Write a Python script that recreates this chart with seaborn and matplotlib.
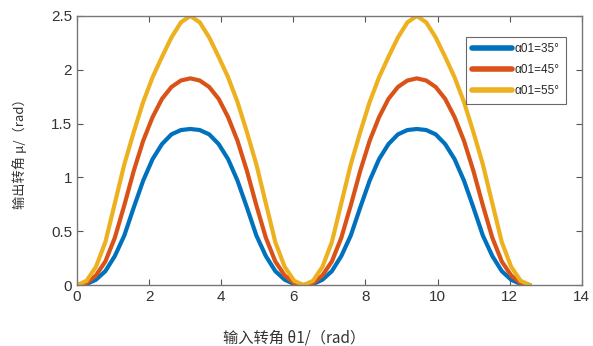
import numpy as np
import pandas as pd
import matplotlib
matplotlib.use("Agg")
import matplotlib.pyplot as plt
import seaborn as sns

# Input angle samples over one rising half-cycle (0 .. pi), step pi/12
x_half = [0.0, 0.262, 0.524, 0.785, 1.047, 1.309, 1.571, 1.833, 2.094, 2.356, 2.618, 2.880, 3.142]
# Output angle readings for each alpha over the rising half-cycle
mu35_half = [0.0, 0.01, 0.05, 0.13, 0.27, 0.46, 0.72, 0.97, 1.17, 1.31, 1.40, 1.44, 1.45]
mu45_half = [0.0, 0.02, 0.09, 0.22, 0.44, 0.74, 1.06, 1.34, 1.56, 1.73, 1.84, 1.90, 1.92]
mu55_half = [0.0, 0.04, 0.17, 0.40, 0.76, 1.12, 1.42, 1.70, 1.93, 2.12, 2.30, 2.44, 2.50]
series_labels = ["α01=35°", "α01=45°", "α01=55°"]
x_ticks = [0, 2, 4, 6, 8, 10, 12, 14]
y_ticks = [0, 0.5, 1, 1.5, 2, 2.5]
y_tick_labels = ["0", "0.5", "1", "1.5", "2", "2.5"]
colors = ["#0072BD", "#D95319", "#EDB120"]


def full_cycle(xh, yh):
    # curve is symmetric about pi and periodic with 2*pi, two periods shown
    xs, ys = [], []
    for k in range(2):
        off = 2 * np.pi * k
        xs += [off + v for v in xh]
        ys += list(yh)
        xs += [off + 2 * np.pi - v for v in xh[-2::-1]]
        ys += list(yh[-2::-1])
    return xs, ys


rows = []
for lab, yh in zip(series_labels, [mu35_half, mu45_half, mu55_half]):
    xs, ys = full_cycle(x_half, yh)
    for a, b in zip(xs, ys):
        rows.append({"theta": a, "mu": b, "series": lab})
df = pd.DataFrame(rows)

sns.set_theme(style="white")
plt.rcParams['font.family'] = ['Liberation Sans Narrow', 'Liberation Sans', 'DejaVu Sans']

fig = plt.figure(figsize=(5.93, 3.46), dpi=100)
ax = fig.add_axes([0.130, 0.176, 0.851, 0.778])

sns.lineplot(data=df, x="theta", y="mu", hue="series", palette=colors,
             linewidth=3.0, ax=ax, sort=False, estimator=None)
for ln in ax.get_lines():
    ln.set_solid_joinstyle("round")
    ln.set_solid_capstyle("round")

ax.set_xlim(0, 14)
ax.set_ylim(0, 2.5)
ax.set_xticks(x_ticks)
ax.set_xticklabels([str(t) for t in x_ticks])
ax.set_yticks(y_ticks)
ax.set_yticklabels(y_tick_labels)
ax.tick_params(direction="in", length=4, width=0.8, colors="#555555",
               labelcolor="#333333", labelsize=11, top=True, right=True,
               bottom=True, left=True)
for s in ax.spines.values():
    s.set_color("#777777")
    s.set_linewidth(1.0)

ax.set_xlabel("输入转角 θ1/（rad）", family=['Noto Sans CJK SC', 'DejaVu Sans'],
              fontsize=11, color="#333333")
ax.set_ylabel("输出转角 μ/（rad）", family=['Noto Sans CJK SC', 'DejaVu Sans'],
              fontsize=9.5, color="#333333")
ax.xaxis.set_label_coords(0.43, -0.165)
ax.yaxis.set_label_coords(-0.10, 0.5)

leg = ax.legend(loc="upper right", bbox_to_anchor=(0.968, 0.922), fontsize=8.5,
                frameon=True, fancybox=False, handlelength=3.4,
                borderpad=0.55, labelspacing=0.75, handletextpad=0.15,
                borderaxespad=0.0)
leg.get_frame().set_edgecolor("#444444")
leg.get_frame().set_linewidth(0.8)
for line in leg.get_lines():
    line.set_linewidth(4)

fig.savefig("out.png", dpi=100)
